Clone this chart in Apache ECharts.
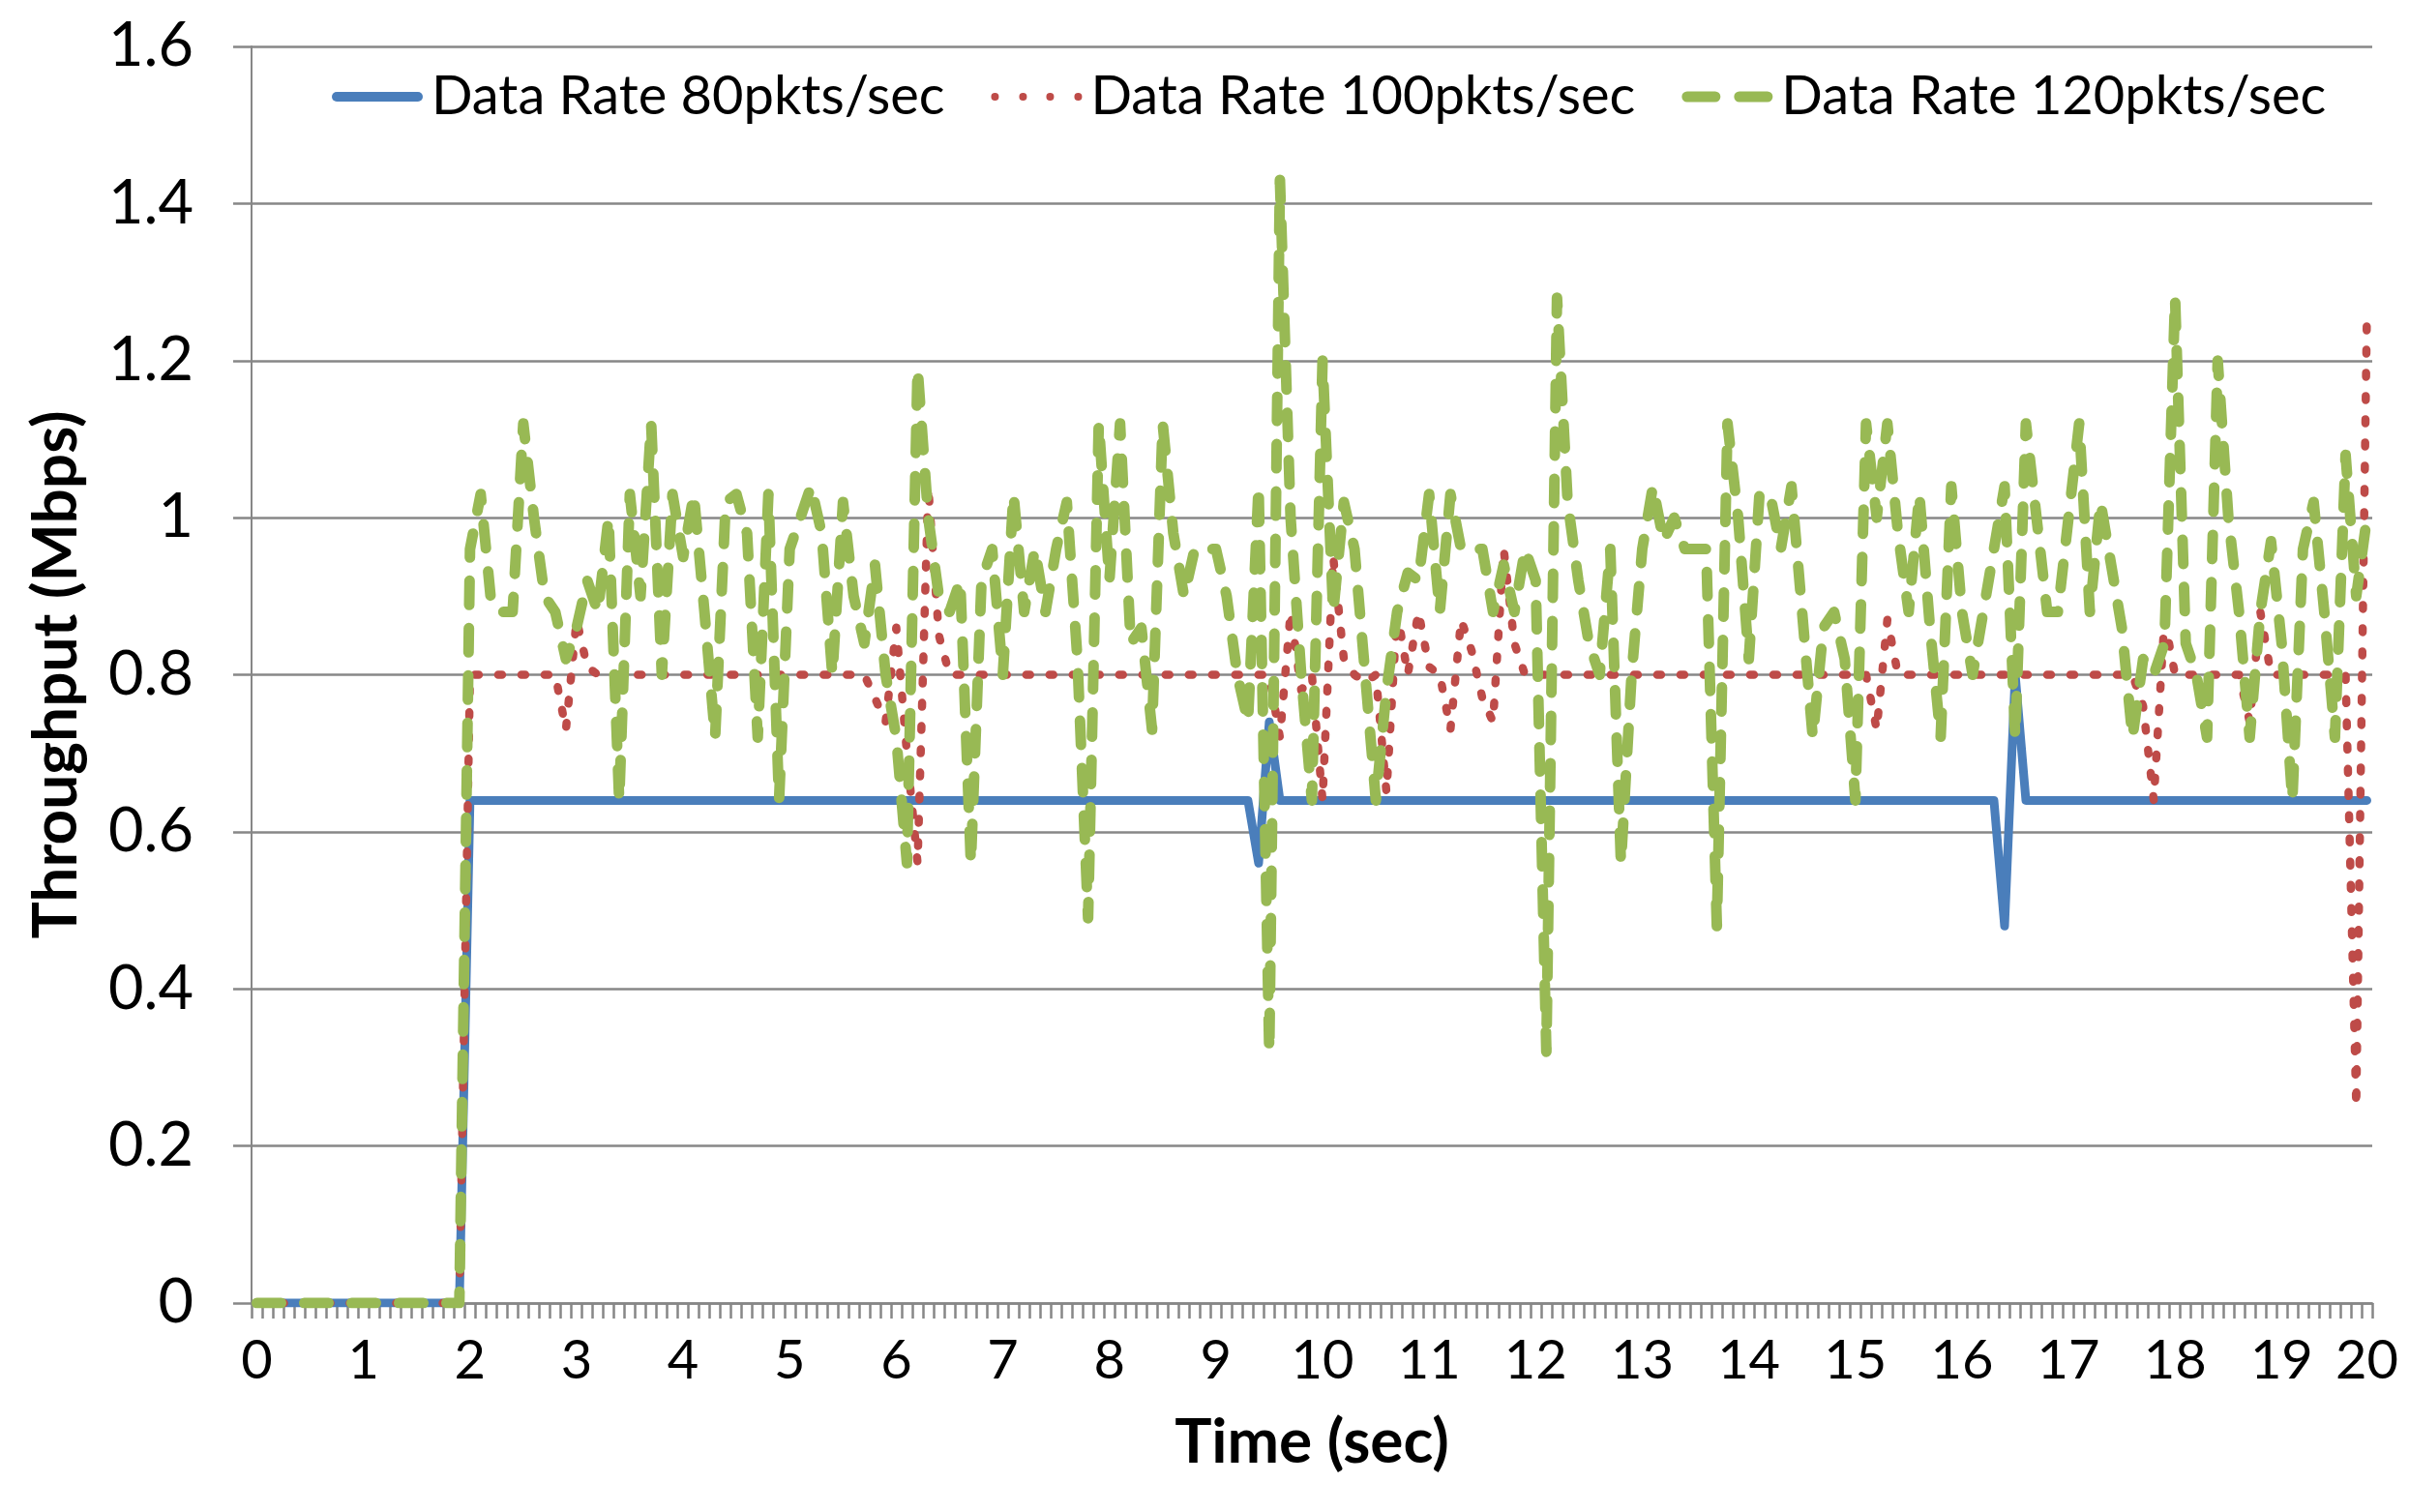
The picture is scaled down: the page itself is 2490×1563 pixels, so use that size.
<!DOCTYPE html>
<html>
<head>
<meta charset="utf-8">
<script src="https://cdn.jsdelivr.net/npm/echarts@6/dist/echarts.min.js"></script>
<style>
  html, body { margin: 0; padding: 0; background: #ffffff; }
  #chart { width: 2490px; height: 1563px; }
</style>
</head>
<body>
<div id="chart"></div>
<script>
// Time categories (sec), one every 0.1 s
const timeCategories = [
  "0","0.1","0.2","0.3","0.4","0.5","0.6","0.7","0.8","0.9",
  "1","1.1","1.2","1.3","1.4","1.5","1.6","1.7","1.8","1.9",
  "2","2.1","2.2","2.3","2.4","2.5","2.6","2.7","2.8","2.9",
  "3","3.1","3.2","3.3","3.4","3.5","3.6","3.7","3.8","3.9",
  "4","4.1","4.2","4.3","4.4","4.5","4.6","4.7","4.8","4.9",
  "5","5.1","5.2","5.3","5.4","5.5","5.6","5.7","5.8","5.9",
  "6","6.1","6.2","6.3","6.4","6.5","6.6","6.7","6.8","6.9",
  "7","7.1","7.2","7.3","7.4","7.5","7.6","7.7","7.8","7.9",
  "8","8.1","8.2","8.3","8.4","8.5","8.6","8.7","8.8","8.9",
  "9","9.1","9.2","9.3","9.4","9.5","9.6","9.7","9.8","9.9",
  "10","10.1","10.2","10.3","10.4","10.5","10.6","10.7","10.8","10.9",
  "11","11.1","11.2","11.3","11.4","11.5","11.6","11.7","11.8","11.9",
  "12","12.1","12.2","12.3","12.4","12.5","12.6","12.7","12.8","12.9",
  "13","13.1","13.2","13.3","13.4","13.5","13.6","13.7","13.8","13.9",
  "14","14.1","14.2","14.3","14.4","14.5","14.6","14.7","14.8","14.9",
  "15","15.1","15.2","15.3","15.4","15.5","15.6","15.7","15.8","15.9",
  "16","16.1","16.2","16.3","16.4","16.5","16.6","16.7","16.8","16.9",
  "17","17.1","17.2","17.3","17.4","17.5","17.6","17.7","17.8","17.9",
  "18","18.1","18.2","18.3","18.4","18.5","18.6","18.7","18.8","18.9",
  "19","19.1","19.2","19.3","19.4","19.5","19.6","19.7","19.8"
];

// Throughput (Mbps), Data Rate 80pkts/sec
const rate80 = [
  0,0,0,0,0,0,0,0,0,0,
  0,0,0,0,0,0,0,0,0,0,
  0.64,0.64,0.64,0.64,0.64,0.64,0.64,0.64,0.64,0.64,
  0.64,0.64,0.64,0.64,0.64,0.64,0.64,0.64,0.64,0.64,
  0.64,0.64,0.64,0.64,0.64,0.64,0.64,0.64,0.64,0.64,
  0.64,0.64,0.64,0.64,0.64,0.64,0.64,0.64,0.64,0.64,
  0.64,0.64,0.64,0.64,0.64,0.64,0.64,0.64,0.64,0.64,
  0.64,0.64,0.64,0.64,0.64,0.64,0.64,0.64,0.64,0.64,
  0.64,0.64,0.64,0.64,0.64,0.64,0.64,0.64,0.64,0.64,
  0.64,0.64,0.64,0.64,0.56,0.74,0.64,0.64,0.64,0.64,
  0.64,0.64,0.64,0.64,0.64,0.64,0.64,0.64,0.64,0.64,
  0.64,0.64,0.64,0.64,0.64,0.64,0.64,0.64,0.64,0.64,
  0.64,0.64,0.64,0.64,0.64,0.64,0.64,0.64,0.64,0.64,
  0.64,0.64,0.64,0.64,0.64,0.64,0.64,0.64,0.64,0.64,
  0.64,0.64,0.64,0.64,0.64,0.64,0.64,0.64,0.64,0.64,
  0.64,0.64,0.64,0.64,0.64,0.64,0.64,0.64,0.64,0.64,
  0.64,0.64,0.64,0.64,0.48,0.80,0.64,0.64,0.64,0.64,
  0.64,0.64,0.64,0.64,0.64,0.64,0.64,0.64,0.64,0.64,
  0.64,0.64,0.64,0.64,0.64,0.64,0.64,0.64,0.64,0.64,
  0.64,0.64,0.64,0.64,0.64,0.64,0.64,0.64,0.64
];

// Throughput (Mbps), Data Rate 100pkts/sec
const rate100 = [
  0,0,0,0,0,0,0,0,0,0,
  0,0,0,0,0,0,0,0,0,0,
  0.8,0.8,0.8,0.8,0.8,0.8,0.8,0.8,0.8,0.73,
  0.87,0.81,0.8,0.8,0.8,0.8,0.8,0.8,0.8,0.8,
  0.8,0.8,0.8,0.8,0.8,0.8,0.8,0.8,0.8,0.8,
  0.8,0.8,0.8,0.8,0.8,0.8,0.8,0.8,0.77,0.74,
  0.86,0.70,0.56,1.04,0.85,0.8,0.8,0.8,0.8,0.8,
  0.8,0.8,0.8,0.8,0.8,0.8,0.8,0.8,0.8,0.8,
  0.8,0.8,0.8,0.8,0.8,0.8,0.8,0.8,0.8,0.8,
  0.8,0.8,0.8,0.8,0.8,0.8,0.72,0.88,0.78,0.8,
  0.64,0.95,0.82,0.8,0.79,0.8,0.65,0.88,0.8,0.88,
  0.81,0.8,0.73,0.87,0.83,0.77,0.74,0.96,0.84,0.8,
  0.8,0.8,0.8,0.8,0.8,0.8,0.8,0.8,0.8,0.8,
  0.8,0.8,0.8,0.8,0.8,0.8,0.8,0.8,0.8,0.8,
  0.8,0.8,0.8,0.8,0.8,0.8,0.8,0.8,0.8,0.8,
  0.8,0.8,0.73,0.87,0.8,0.8,0.8,0.8,0.8,0.8,
  0.8,0.8,0.8,0.8,0.8,0.8,0.8,0.8,0.8,0.8,
  0.8,0.8,0.8,0.8,0.8,0.8,0.8,0.76,0.64,0.87,
  0.8,0.8,0.8,0.8,0.8,0.8,0.8,0.74,0.88,0.8,
  0.8,0.8,0.8,0.8,0.8,0.8,0.8,0.25,1.26
];

// Throughput (Mbps), Data Rate 120pkts/sec
const rate120 = [
  0,0,0,0,0,0,0,0,0,0,
  0,0,0,0,0,0,0,0,0,0,
  0.96,1.03,0.89,0.88,0.88,1.12,1.0,0.9,0.88,0.82,
  0.86,0.92,0.88,1.0,0.64,1.03,0.9,1.12,0.80,1.03,
  0.95,1.03,0.88,0.72,1.02,1.03,0.98,0.72,1.03,0.64,
  0.96,1.0,1.04,0.98,0.80,1.02,0.90,0.84,0.94,0.80,
  0.72,0.56,1.19,1.0,0.90,0.88,0.92,0.56,0.92,0.96,
  0.80,1.03,0.88,0.96,0.88,0.96,1.02,0.82,0.49,1.12,
  0.92,1.12,0.84,0.86,0.73,1.12,0.98,0.90,0.96,0.96,
  0.96,0.90,0.80,0.74,1.04,0.32,1.43,1.0,0.80,0.64,
  1.2,0.88,1.02,0.96,0.80,0.64,0.78,0.88,0.93,0.92,
  1.03,0.88,1.03,0.96,0.96,0.96,0.88,0.94,0.88,0.96,
  0.92,0.32,1.28,1.02,0.92,0.84,0.80,0.96,0.56,0.80,
  0.96,1.04,0.97,1.0,0.96,0.96,0.96,0.48,1.12,1.0,
  0.82,1.03,1.03,0.96,1.04,0.88,0.72,0.86,0.88,0.82,
  0.64,1.12,1.0,1.12,0.98,0.88,1.03,0.86,0.72,1.04,
  0.88,0.80,0.88,0.96,1.04,0.72,1.12,1.0,0.88,0.88,
  1.0,1.12,0.88,1.02,0.94,0.86,0.72,0.82,0.80,0.84,
  1.28,0.84,0.80,0.72,1.2,1.0,0.88,0.72,0.88,0.97,
  0.84,0.64,0.96,1.02,0.88,0.72,1.08,0.90,1.0
];

const yTicks = { min: 0, max: 1.6, step: 0.2 };

const FONT = 'Lato';
const chart = echarts.init(document.getElementById('chart'), null, { renderer: 'canvas' });

const lastIdx = timeCategories.length - 1;

// Legend icons imitating the line styles (solid, round dot, dash)
const iconSolid = 'path://M5,0 L89,0 A5,5 0 0 1 89,10 L5,10 A5,5 0 0 1 5,0 Z';
const iconDots = 'path://M0,4 A4,4 0 1 0 8,4 A4,4 0 1 0 0,4 Z ' +
                 'M29,4 A4,4 0 1 0 37,4 A4,4 0 1 0 29,4 Z ' +
                 'M57,4 A4,4 0 1 0 65,4 A4,4 0 1 0 57,4 Z ' +
                 'M86,4 A4,4 0 1 0 94,4 A4,4 0 1 0 86,4 Z';
const iconDash = 'path://M5.5,0 L34.5,0 A5.5,5.5 0 0 1 34.5,11 L5.5,11 A5.5,5.5 0 0 1 5.5,0 Z ' +
                 'M59.5,0 L88.5,0 A5.5,5.5 0 0 1 88.5,11 L59.5,11 A5.5,5.5 0 0 1 59.5,0 Z';

chart.setOption({
  animation: false,
  backgroundColor: '#ffffff',
  textStyle: { fontFamily: FONT },
  grid: { left: 260, right: 38, top: 48, bottom: 216, containLabel: false },
  legend: {
    left: 338,
    top: 67,
    itemWidth: 94,
    itemHeight: 11,
    itemGap: 48,
    symbolKeepAspect: true,
    itemStyle: { borderWidth: 0 },
    textStyle: { fontFamily: FONT, fontSize: 56, color: '#000000', padding: [0, 0, 0, 4] },
    data: [
      { name: 'Data Rate 80pkts/sec', icon: iconSolid },
      { name: 'Data Rate 100pkts/sec', icon: iconDots },
      { name: 'Data Rate 120pkts/sec', icon: iconDash }
    ]
  },
  xAxis: {
    type: 'category',
    data: timeCategories,
    boundaryGap: true,
    name: 'Time (sec)',
    nameLocation: 'middle',
    nameGap: 112,
    nameTextStyle: { fontFamily: FONT, fontSize: 64, fontWeight: 'bold', color: '#000000' },
    axisLine: { show: true, lineStyle: { color: '#878787', width: 2.5 } },
    axisTick: { show: true, interval: 0, length: 16, lineStyle: { color: '#878787', width: 2.5 } },
    axisLabel: {
      interval: function (i) { return i % 10 === 0 || i === lastIdx; },
      formatter: function (v) { return String(Math.round(Number(v))); },
      fontFamily: FONT, fontSize: 56, color: '#000000', margin: 32
    },
    splitLine: { show: false }
  },
  yAxis: {
    type: 'value',
    min: yTicks.min,
    max: yTicks.max,
    interval: yTicks.step,
    name: 'Throughput (Mbps)',
    nameLocation: 'middle',
    nameGap: 170,
    nameRotate: 90,
    nameTextStyle: { fontFamily: FONT, fontSize: 64, fontWeight: 'bold', color: '#000000' },
    axisLine: { show: true, lineStyle: { color: '#878787', width: 2 } },
    axisTick: { show: true, inside: false, length: 19, lineStyle: { color: '#878787', width: 2.5 } },
    axisLabel: { fontFamily: FONT, fontSize: 63, color: '#000000', margin: 60 },
    splitLine: { show: true, lineStyle: { color: '#878787', width: 2.5 } }
  },
  series: [
    {
      name: 'Data Rate 80pkts/sec',
      type: 'line',
      data: rate80,
      symbol: 'none',
      showSymbol: false,
      color: '#4A7EBB',
      lineStyle: { color: '#4A7EBB', width: 9, cap: 'round', join: 'round' },
      z: 2
    },
    {
      name: 'Data Rate 100pkts/sec',
      type: 'line',
      data: rate100,
      symbol: 'none',
      showSymbol: false,
      color: '#BE4B48',
      lineStyle: { color: '#BE4B48', width: 8.5, type: [4, 20], cap: 'round', join: 'round' },
      z: 3
    },
    {
      name: 'Data Rate 120pkts/sec',
      type: 'line',
      data: rate120,
      symbol: 'none',
      showSymbol: false,
      color: '#98B954',
      lineStyle: { color: '#98B954', width: 11, type: [25, 24], cap: 'round', join: 'round' },
      z: 4
    }
  ]
});
</script>
</body>
</html>
